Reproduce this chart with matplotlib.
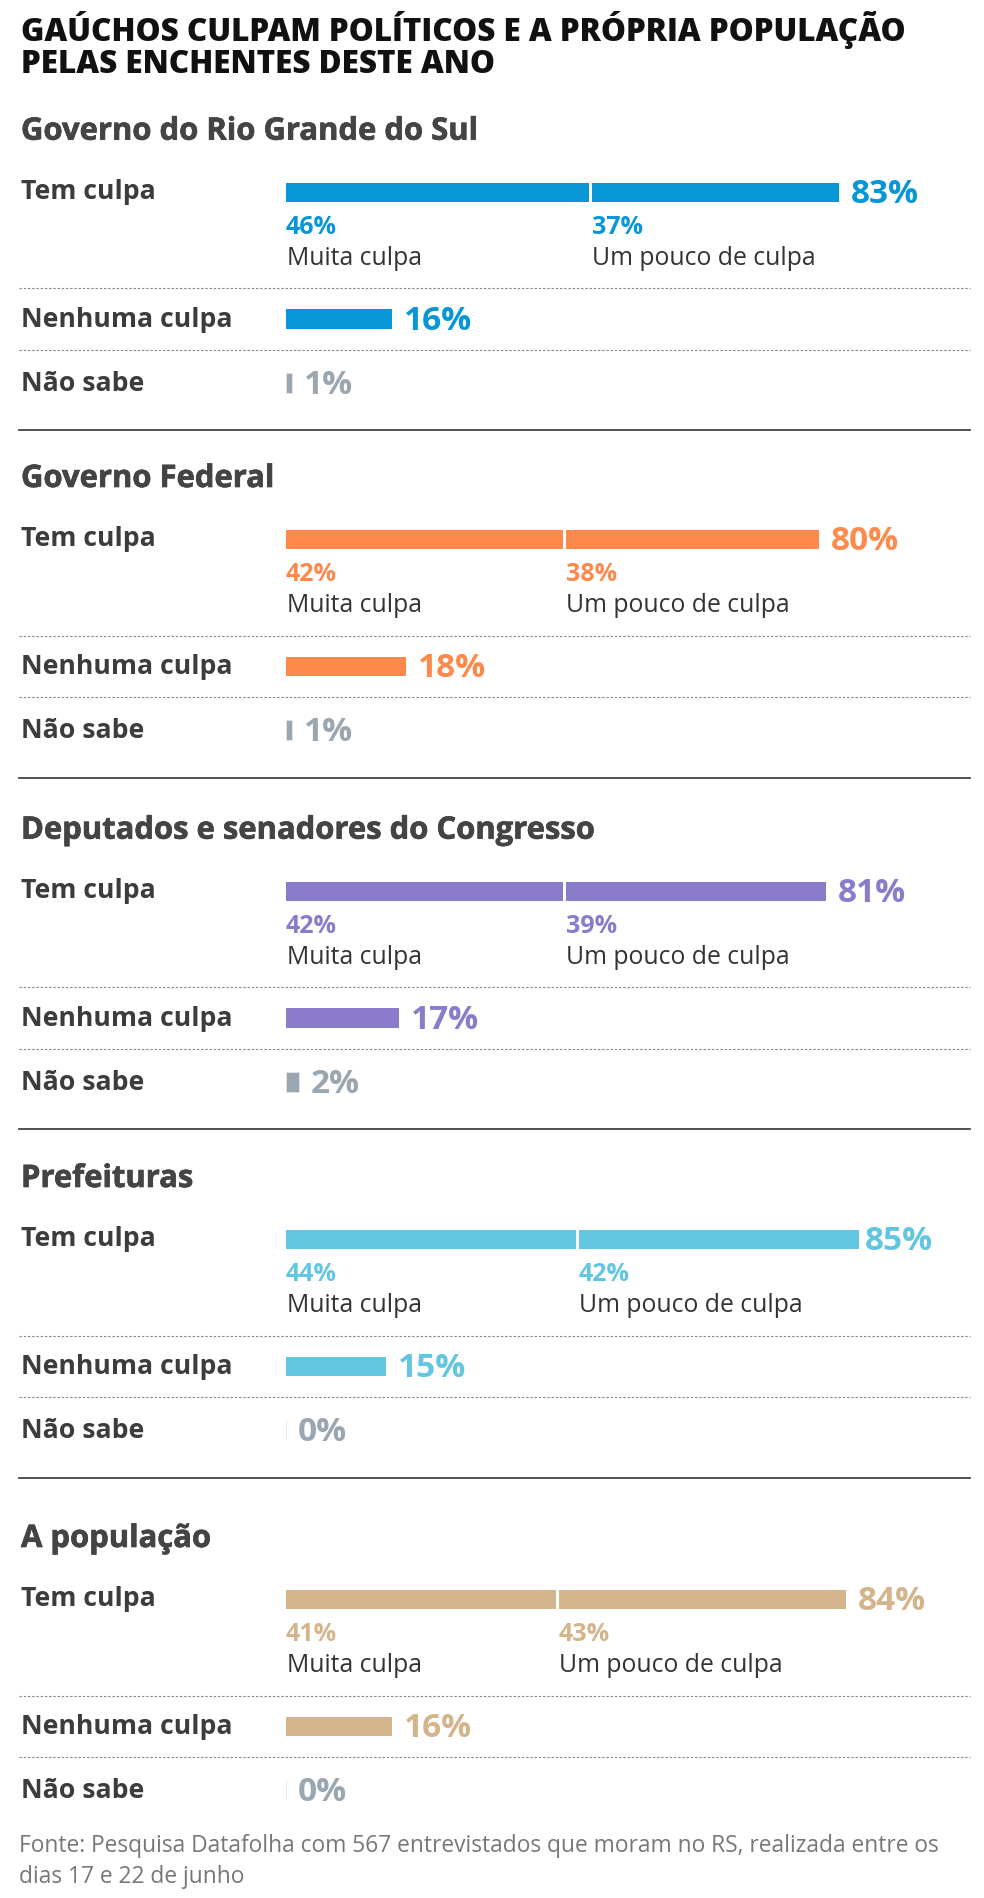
import matplotlib
matplotlib.use("Agg")
import matplotlib.pyplot as plt
import matplotlib.patheffects as pe
from matplotlib.transforms import offset_copy

plt.rcParams['font.family'] = ['Open Sans', 'DejaVu Sans']

# --- data ---
titles = ["Governo do Rio Grande do Sul", "Governo Federal",
          "Deputados e senadores do Congresso", "Prefeituras", "A população"]
row_labels = ["Tem culpa", "Nenhuma culpa", "Não sabe"]
sub_labels = ["Muita culpa", "Um pouco de culpa"]
muita = [46, 42, 42, 44, 41]
pouco = [37, 38, 39, 42, 43]
tem_culpa = [83, 80, 81, 85, 84]
nenhuma = [16, 18, 17, 15, 16]
nao_sabe = [1, 1, 2, 0, 0]
colors = ['#0797d6', '#fd8a4c', '#8b7bcb', '#63c6e0', '#d4b48b']
GRAY = '#9aa6b0'

# --- layout (pixels) ---
W, H = 984, 1898
X_LABEL = 21
X_BAR = 285.6
PX_PER_PCT = 6.67
anchors = [182.7, 530, 881.7, 1230, 1590]   # top of "Tem culpa" bar per block

fig = plt.figure(figsize=(W / 100, H / 100), dpi=100)
cv = fig.add_axes([0, 0, 1, 1])
cv.set_xlim(0, W)
cv.set_ylim(H, 0)
cv.axis('off')

bx = fig.add_axes([X_BAR / W, 0, 100 * PX_PER_PCT / W, 1])
bx.set_xlim(0, 100)
bx.set_ylim(H, 0)
bx.axis('off')
after_bar = offset_copy(bx.transData, fig=fig, x=12, y=0, units='dots')

# section headers look a touch heavier than plain bold
heavy_head = [pe.withStroke(linewidth=0.5, foreground='#444444')]

cv.text(X_LABEL, 40.7, "GAÚCHOS CULPAM POLÍTICOS E A PRÓPRIA POPULAÇÃO",
        fontsize=22.7, fontweight='heavy', color='#111111', va='baseline')
cv.text(X_LABEL, 73.3, "PELAS ENCHENTES DESTE ANO",
        fontsize=22.7, fontweight='heavy', color='#111111', va='baseline')

gap = 3 / PX_PER_PCT
for i, (name, a) in enumerate(zip(titles, anchors)):
    c = colors[i]
    cv.text(X_LABEL, a - 43, name, fontsize=22.3, fontweight='bold',
            color='#444444', va='baseline', path_effects=heavy_head)

    # Tem culpa
    cv.text(X_LABEL, a + 16, row_labels[0], fontsize=19.2, fontweight='bold',
            color='#3c3c3c', va='baseline')
    bx.barh(a + 9.5, muita[i] - gap, height=19, left=0, color=c)
    bx.barh(a + 9.5, pouco[i], height=19, left=muita[i], color=c)
    bx.text(tem_culpa[i], a + 20, f"{tem_culpa[i]}%", transform=after_bar,
            fontsize=24, fontweight='bold', color=c, va='baseline')
    bx.text(0, a + 51, f"{muita[i]}%", fontsize=18, fontweight='bold',
            color=c, va='baseline')
    bx.text(muita[i], a + 51, f"{pouco[i]}%", fontsize=18, fontweight='bold',
            color=c, va='baseline')
    bx.text(0.2, a + 82, sub_labels[0], fontsize=17.8, color='#333333',
            va='baseline')
    bx.text(muita[i], a + 82, sub_labels[1], fontsize=17.8, color='#333333',
            va='baseline')
    cv.plot([19, 970], [a + 105.5] * 2, color='#8a8a8a', lw=0.8,
            linestyle=(0, (2.2, 1.6)))

    # Nenhuma culpa
    cv.text(X_LABEL, a + 144, row_labels[1], fontsize=19.2, fontweight='bold',
            color='#3c3c3c', va='baseline')
    bx.barh(a + 136.3, nenhuma[i], height=19.5, left=0, color=c)
    bx.text(nenhuma[i], a + 147, f"{nenhuma[i]}%", transform=after_bar,
            fontsize=24, fontweight='bold', color=c, va='baseline')
    cv.plot([19, 970], [a + 167] * 2, color='#8a8a8a', lw=0.8,
            linestyle=(0, (2.2, 1.6)))

    # Não sabe
    cv.text(X_LABEL, a + 208, row_labels[2], fontsize=19.2, fontweight='bold',
            color='#3c3c3c', va='baseline')
    bx.barh(a + 200.2, nao_sabe[i], height=20.5, left=0, color=GRAY,
            edgecolor='#e3e7ea', linewidth=0.6)
    bx.text(nao_sabe[i], a + 211, f"{nao_sabe[i]}%", transform=after_bar,
            fontsize=24, fontweight='bold', color=GRAY, va='baseline')

    if i < len(titles) - 1:
        cv.plot([19, 970], [a + 247.5] * 2, color='#333333', lw=1.2)

cv.text(X_LABEL - 2, 1852.5,
        "Fonte: Pesquisa Datafolha com 567 entrevistados que moram no RS, realizada entre os",
        fontsize=16.4, color='#777777', va='baseline')
cv.text(X_LABEL - 2, 1883, "dias 17 e 22 de junho",
        fontsize=16.4, color='#777777', va='baseline')

fig.savefig("out.png", dpi=100)
